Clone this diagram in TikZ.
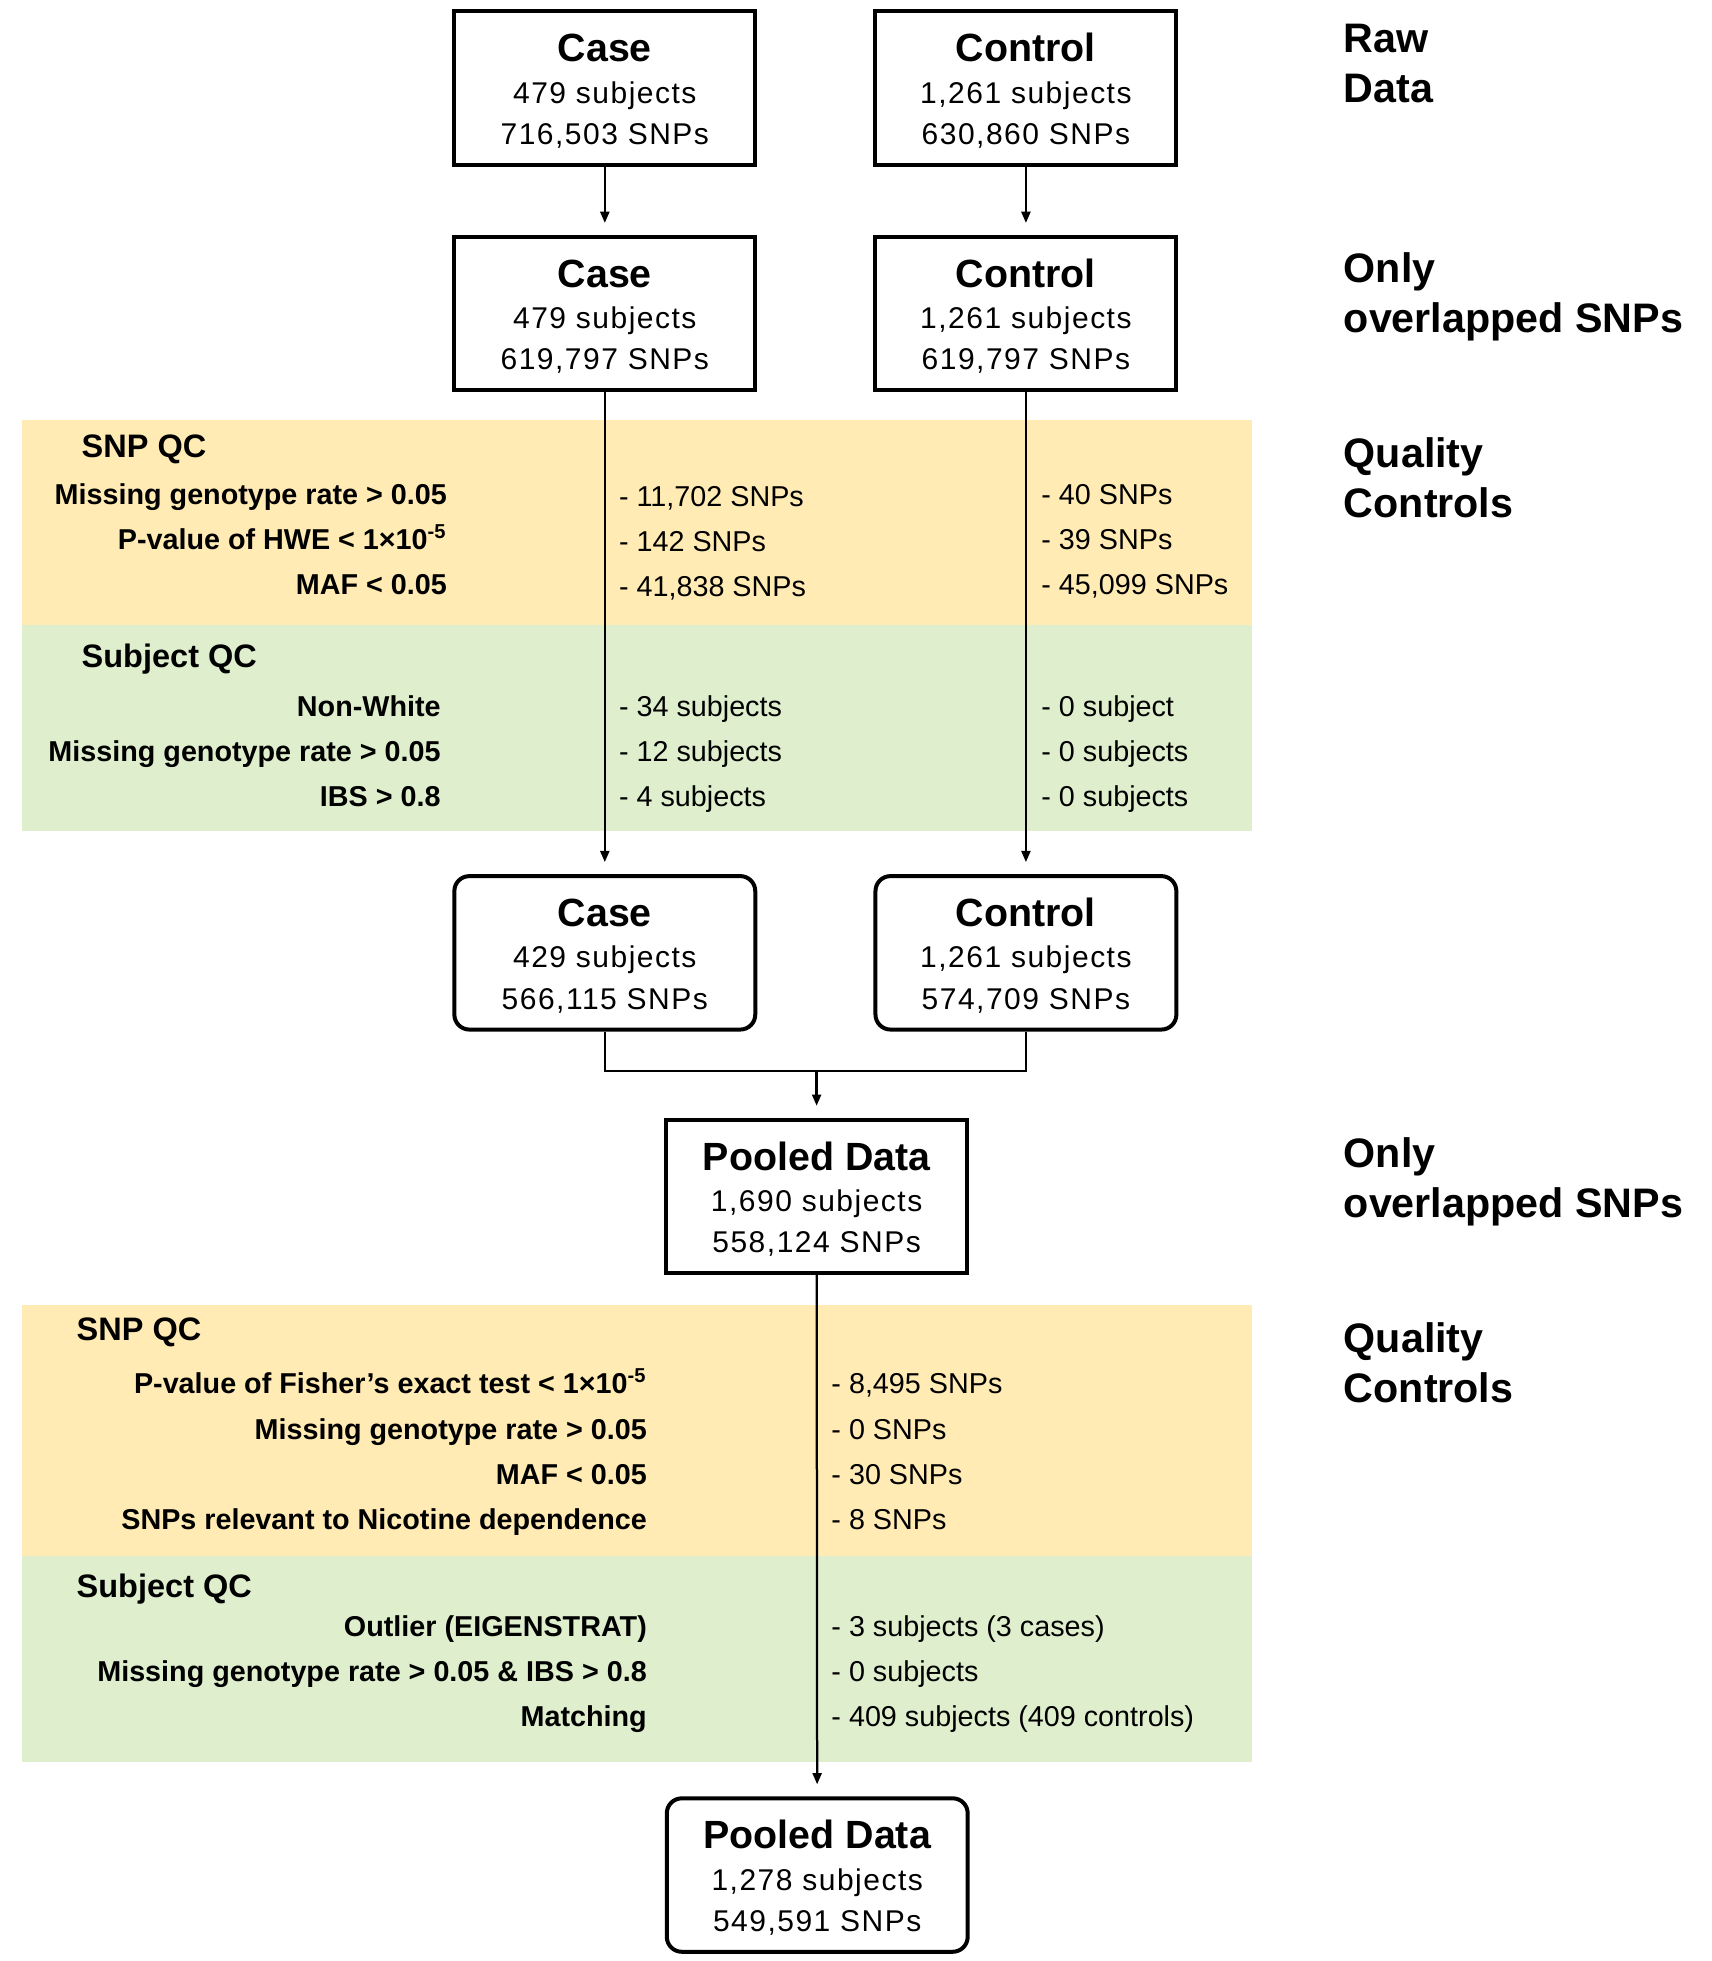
\documentclass[tikz,border=0pt]{standalone}
\usepackage{fontspec}
\setmainfont{Liberation Sans}
\newfontfamily\boxfont[LetterSpace=5]{Liberation Sans}
\usetikzlibrary{arrows.meta}
\definecolor{qcyellow}{RGB}{255,235,179}
\definecolor{qcgreen}{RGB}{223,239,205}
\newcommand\boxtitle[1]{{\rule{0pt}{13.5pt}\rmfamily\fontsize{15.75}{16}\selectfont\bfseries #1}}
\begin{document}
\begin{tikzpicture}[x=0.5pt,y=-0.5pt,
  box/.style={draw, line width=1.6pt, minimum width=120.4pt, minimum height=61.4pt,
    inner sep=0pt, align=center, font=\boxfont\fontsize{12}{16.5}\selectfont},
  rbox/.style={box, rounded corners=6pt},
  conn/.style={line width=0.9pt},
  arr/.style={conn, -{Triangle[length=4.5pt,width=3.6pt]}, shorten >=4.8pt},
  side/.style={anchor=base west, inner sep=0pt, font=\fontsize{16.5}{20}\selectfont\bfseries},
  crit/.style={anchor=base east, inner sep=0pt, font=\fontsize{11.5}{14}\selectfont\bfseries},
  val/.style={anchor=base west, inner sep=0pt, font=\fontsize{11.5}{14}\selectfont},
  qchead/.style={anchor=base west, inner sep=0pt, font=\fontsize{13}{16}\selectfont\bfseries}
]
\useasboundingbox (0,0) rectangle (1370,1569.3);

% bands
\fill[qcyellow] (18,336) rectangle (1002,500);
\fill[qcgreen] (18,500) rectangle (1002,665);
\fill[qcyellow] (18,1044) rectangle (1002,1245);
\fill[qcgreen] (18,1245) rectangle (1002,1410);

% boxes
\node[box] (c1) at (484,70.5) {\boxtitle{Case}\\479 subjects\\716,503 SNPs};
\node[box] (k1) at (821,70.5) {\boxtitle{Control}\\1,261 subjects\\630,860 SNPs};
\node[box] (c2) at (484,251) {\boxtitle{Case}\\479 subjects\\619,797 SNPs};
\node[box] (k2) at (821,251) {\boxtitle{Control}\\1,261 subjects\\619,797 SNPs};
\node[rbox] (c3) at (484,762.5) {\boxtitle{Case}\\429 subjects\\566,115 SNPs};
\node[rbox] (k3) at (821,762.5) {\boxtitle{Control}\\1,261 subjects\\574,709 SNPs};
\node[box] (p1) at (653.5,957.5) {\boxtitle{Pooled Data}\\1,690 subjects\\558,124 SNPs};
\node[rbox] (p2) at (654,1500.5) {\boxtitle{Pooled Data}\\1,278 subjects\\549,591 SNPs};

% connectors
\draw[arr] (c1) -- (c2);
\draw[arr] (k1) -- (k2);
\draw[arr] (c2) -- (c3);
\draw[arr] (k2) -- (k3);
\coordinate (j) at (653.5,857);
\draw[conn] (c3.south) |- (j) -| (k3.south);
\draw[arr] (j) -- (p1.north);
\draw[arr] (p1) -- (p2);

% side labels
\node[side] (s1a) at (1075,42) {Raw};
\node[side] (s1b) at (1075,82) {Data};
\node[side] (s2a) at (1075,226) {Only};
\node[side] (s2b) at (1075,266) {overlapped SNPs};
\node[side] (s3a) at (1075,374) {Quality};
\node[side] (s3b) at (1075,414) {Controls};
\node[side] (s4a) at (1075,934) {Only};
\node[side] (s4b) at (1075,974) {overlapped SNPs};
\node[side] (s5a) at (1075,1082) {Quality};
\node[side] (s5b) at (1075,1122) {Controls};

% first QC block
\node[qchead] (h1) at (65,366) {SNP QC};
\node[crit] (a1) at (358,404) {Missing genotype rate > 0.05};
\node[crit] (a2) at (358,440) {P-value of HWE < 1×10\textsuperscript{-5}};
\node[crit] (a3) at (358,476) {MAF < 0.05};
\node[val] (a1c) at (495,405) {- 11,702 SNPs};
\node[val] (a2c) at (495,441) {- 142 SNPs};
\node[val] (a3c) at (495,477) {- 41,838 SNPs};
\node[val] (a1k) at (833,404) {- 40 SNPs};
\node[val] (a2k) at (833,440) {- 39 SNPs};
\node[val] (a3k) at (833,476) {- 45,099 SNPs};

\node[qchead] (h2) at (65,534) {Subject QC};
\node[crit] (b1) at (353,573) {Non-White};
\node[crit] (b2) at (353,609) {Missing genotype rate > 0.05};
\node[crit] (b3) at (353,645) {IBS > 0.8};
\node[val] (b1c) at (495,573) {- 34 subjects};
\node[val] (b2c) at (495,609) {- 12 subjects};
\node[val] (b3c) at (495,645) {- 4 subjects};
\node[val] (b1k) at (833,573) {- 0 subject};
\node[val] (b2k) at (833,609) {- 0 subjects};
\node[val] (b3k) at (833,645) {- 0 subjects};

% second QC block
\node[qchead] (h3) at (61,1073) {SNP QC};
\node[crit] (d1) at (518,1115) {P-value of Fisher’s exact test < 1×10\textsuperscript{-5}};
\node[crit] (d2) at (518,1152) {Missing genotype rate > 0.05};
\node[crit] (d3) at (518,1188) {MAF < 0.05};
\node[crit] (d4) at (518,1224) {SNPs relevant to Nicotine dependence};
\node[val] (d1v) at (665,1115) {- 8,495 SNPs};
\node[val] (d2v) at (665,1152) {- 0 SNPs};
\node[val] (d3v) at (665,1188) {- 30 SNPs};
\node[val] (d4v) at (665,1224) {- 8 SNPs};

\node[qchead] (h4) at (61,1278) {Subject QC};
\node[crit] (e1) at (518,1310) {Outlier (EIGENSTRAT)};
\node[crit] (e2) at (518,1346) {Missing genotype rate > 0.05 \& IBS > 0.8};
\node[crit] (e3) at (518,1382) {Matching};
\node[val] (e1v) at (665,1310) {- 3 subjects (3 cases)};
\node[val] (e2v) at (665,1346) {- 0 subjects};
\node[val] (e3v) at (665,1382) {- 409 subjects (409 controls)};
\end{tikzpicture}
\end{document}
